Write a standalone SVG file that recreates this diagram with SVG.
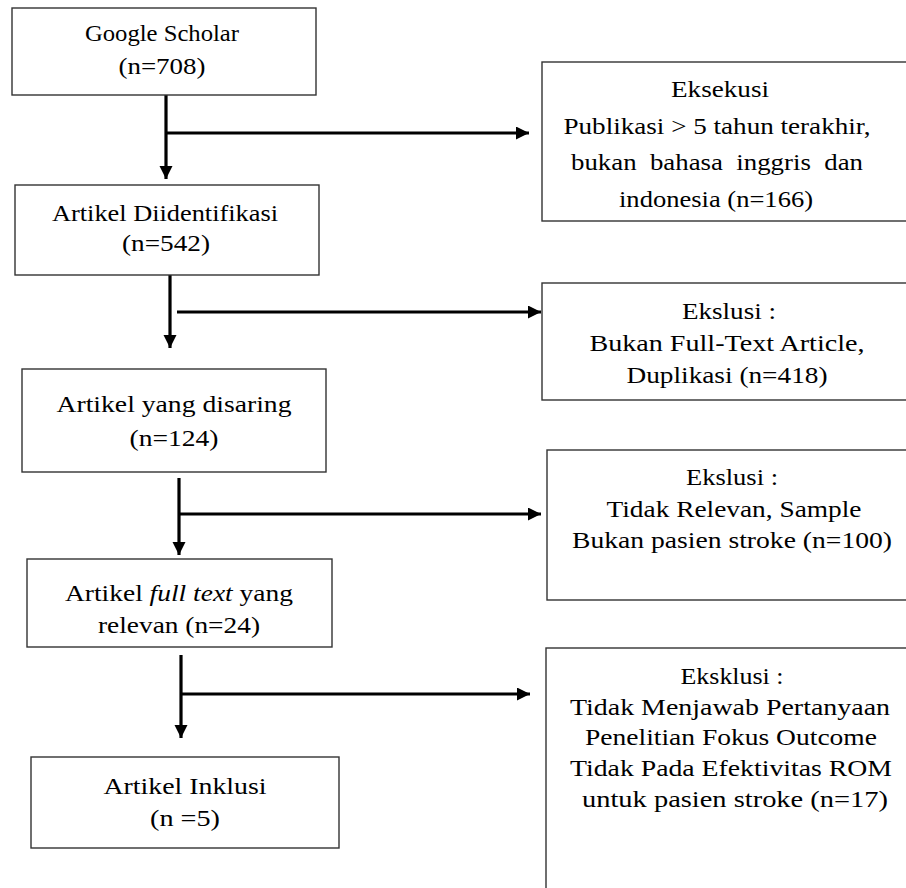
<svg xmlns="http://www.w3.org/2000/svg" width="906" height="888" viewBox="0 0 906 888">
<style>
.box{fill:#fff;stroke:#333;stroke-width:1.4}
.t{font-family:"Liberation Serif","Times New Roman",Times,serif;font-size:24px;fill:#000;text-anchor:middle}
.c{fill:none;stroke:#000;stroke-width:3.2}
</style>
<defs>
<marker id="ah" markerUnits="userSpaceOnUse" markerWidth="14" markerHeight="14" refX="13" refY="6.5" orient="auto">
<path d="M0,0 L13,6.5 L0,13 z" fill="#000"/>
</marker>
</defs>
<rect width="906" height="888" fill="#fff"/>
<g id="connectors">
<line class="c" x1="166" y1="95" x2="166" y2="179" marker-end="url(#ah)"/>
<line class="c" x1="166" y1="133" x2="529" y2="133" marker-end="url(#ah)"/>
<line class="c" x1="170" y1="275" x2="170" y2="348" marker-end="url(#ah)"/>
<line class="c" x1="177" y1="312" x2="541" y2="312" marker-end="url(#ah)"/>
<line class="c" x1="179" y1="478" x2="179" y2="555" marker-end="url(#ah)"/>
<line class="c" x1="179" y1="514" x2="541" y2="514" marker-end="url(#ah)"/>
<line class="c" x1="181" y1="655" x2="181" y2="738" marker-end="url(#ah)"/>
<line class="c" x1="181" y1="694" x2="530" y2="694" marker-end="url(#ah)"/>
</g>
<g id="google-scholar">
<rect class="box" x="12" y="8" width="304" height="87"/>
<text class="t" x="162" y="41" textLength="154" lengthAdjust="spacingAndGlyphs">Google Scholar</text>
<text class="t" x="162" y="74" textLength="87" lengthAdjust="spacingAndGlyphs">(n=708)</text>
</g>
<g id="eksekusi">
<rect class="box" x="542" y="62" width="370" height="159"/>
<text class="t" x="720" y="97" textLength="98" lengthAdjust="spacingAndGlyphs">Eksekusi</text>
<text class="t" x="717" y="134" textLength="307" lengthAdjust="spacingAndGlyphs">Publikasi &gt; 5 tahun terakhir,</text>
<text class="t" x="717" y="170" textLength="292" lengthAdjust="spacingAndGlyphs" xml:space="preserve">bukan  bahasa  inggris  dan</text>
<text class="t" x="716" y="207" textLength="194" lengthAdjust="spacingAndGlyphs">indonesia (n=166)</text>
</g>
<g id="artikel-diidentifikasi">
<rect class="box" x="15" y="185" width="304" height="90"/>
<text class="t" x="165" y="221" textLength="226" lengthAdjust="spacingAndGlyphs">Artikel Diidentifikasi</text>
<text class="t" x="166" y="251" textLength="88" lengthAdjust="spacingAndGlyphs">(n=542)</text>
</g>
<g id="ekslusi-1">
<rect class="box" x="542" y="283" width="370" height="117"/>
<text class="t" x="729" y="319" textLength="94" lengthAdjust="spacingAndGlyphs">Ekslusi :</text>
<text class="t" x="727" y="351" textLength="275" lengthAdjust="spacingAndGlyphs">Bukan Full-Text Article,</text>
<text class="t" x="727" y="383" textLength="201" lengthAdjust="spacingAndGlyphs">Duplikasi (n=418)</text>
</g>
<g id="artikel-disaring">
<rect class="box" x="22" y="369" width="304" height="103"/>
<text class="t" x="174" y="412" textLength="235" lengthAdjust="spacingAndGlyphs">Artikel yang disaring</text>
<text class="t" x="174" y="446" textLength="89" lengthAdjust="spacingAndGlyphs">(n=124)</text>
</g>
<g id="ekslusi-2">
<rect class="box" x="547" y="450" width="365" height="150"/>
<text class="t" x="732" y="485" textLength="92" lengthAdjust="spacingAndGlyphs">Ekslusi :</text>
<text class="t" x="734" y="517" textLength="255" lengthAdjust="spacingAndGlyphs">Tidak Relevan, Sample</text>
<text class="t" x="732" y="548" textLength="320" lengthAdjust="spacingAndGlyphs">Bukan pasien stroke (n=100)</text>
</g>
<g id="artikel-full-text">
<rect class="box" x="27" y="559" width="305" height="88"/>
<text class="t" x="179" y="601" textLength="228" lengthAdjust="spacingAndGlyphs">Artikel <tspan font-style="italic">full text</tspan> yang</text>
<text class="t" x="179" y="633" textLength="162" lengthAdjust="spacingAndGlyphs">relevan (n=24)</text>
</g>
<g id="eksklusi-3">
<rect class="box" x="546" y="648" width="366" height="260"/>
<text class="t" x="732" y="684" textLength="103" lengthAdjust="spacingAndGlyphs">Eksklusi :</text>
<text class="t" x="730" y="715" textLength="320" lengthAdjust="spacingAndGlyphs">Tidak Menjawab Pertanyaan</text>
<text class="t" x="731" y="745" textLength="292" lengthAdjust="spacingAndGlyphs">Penelitian Fokus Outcome</text>
<text class="t" x="731" y="776" textLength="322" lengthAdjust="spacingAndGlyphs">Tidak Pada Efektivitas ROM</text>
<text class="t" x="735" y="807" textLength="306" lengthAdjust="spacingAndGlyphs">untuk pasien stroke (n=17)</text>
</g>
<g id="artikel-inklusi">
<rect class="box" x="31" y="757" width="308" height="91"/>
<text class="t" x="185" y="794" textLength="163" lengthAdjust="spacingAndGlyphs">Artikel Inklusi</text>
<text class="t" x="185" y="826" textLength="70" lengthAdjust="spacingAndGlyphs">(n =5)</text>
</g>
</svg>
